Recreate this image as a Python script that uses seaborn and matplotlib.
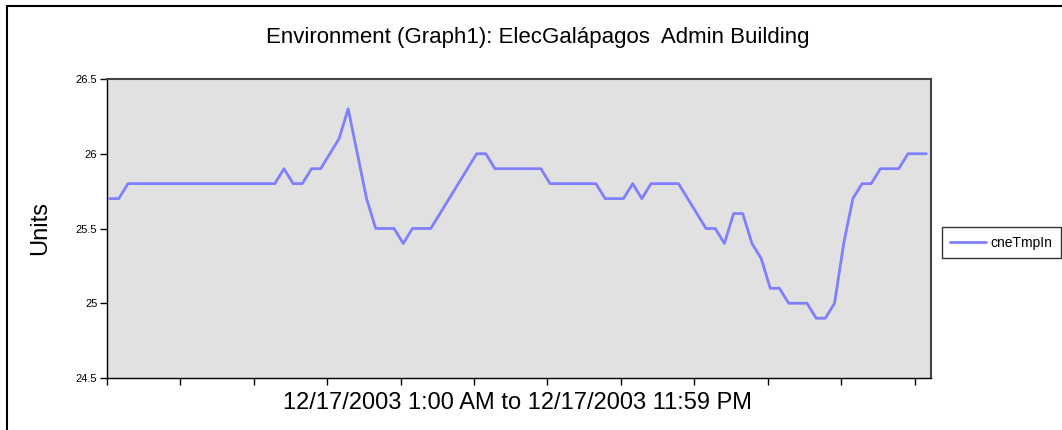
import numpy as np
import pandas as pd
import matplotlib
matplotlib.use('Agg')
import matplotlib.pyplot as plt
import seaborn as sns
from matplotlib.lines import Line2D

# ========================================
# data (15-minute readings, 12/17/2003 from 1:00 AM)
# ========================================
TITLE = "Environment (Graph1): ElecGalápagos  Admin Building"
XLABEL = "12/17/2003 1:00 AM to 12/17/2003 11:59 PM"
YLABEL = "Units"
SERIES = "cneTmpIn"

temps = [25.7, 25.7,
         25.8, 25.8, 25.8, 25.8, 25.8, 25.8, 25.8, 25.8, 25.8, 25.8,
         25.8, 25.8, 25.8, 25.8, 25.8, 25.8, 25.8,
         25.9, 25.8, 25.8, 25.9, 25.9, 26.0, 26.1, 26.3, 26.0, 25.7,
         25.5, 25.5, 25.5, 25.4, 25.5, 25.5, 25.5,
         25.6, 25.7, 25.8, 25.9, 26.0, 26.0,
         25.9, 25.9, 25.9, 25.9, 25.9, 25.9,
         25.8, 25.8, 25.8, 25.8, 25.8, 25.8,
         25.7, 25.7, 25.7, 25.8, 25.7, 25.8, 25.8, 25.8, 25.8,
         25.7, 25.6, 25.5, 25.5, 25.4, 25.6, 25.6, 25.4, 25.3,
         25.1, 25.1, 25.0, 25.0, 25.0, 24.9, 24.9, 25.0,
         25.4, 25.7, 25.8, 25.8, 25.9, 25.9, 25.9, 26.0, 26.0, 26.0]

times = pd.date_range("2003-12-17 01:00", periods=len(temps), freq="15min")
hours = times.hour + times.minute / 60.0

y_ticks = [24.5, 25, 25.5, 26, 26.5]
y_tick_labels = ["24.5", "25", "25.5", "26", "26.5"]

df = pd.DataFrame({"hour": hours, SERIES: temps})

# ========================================
# plot
# ========================================
sns.set_style("white")
plt.rcParams['font.family'] = ['Liberation Sans', 'DejaVu Sans']
plt.rcParams['text.color'] = 'black'
plt.rcParams['xtick.color'] = 'black'
plt.rcParams['ytick.color'] = 'black'

fig = plt.figure(figsize=(10.62, 4.30), dpi=100)
ax = fig.add_axes([0.1008, 0.1209, 0.7759, 0.6954])
ax.set_facecolor('#e1e1e1')

sns.lineplot(data=df, x="hour", y=SERIES, color='#7f7fff', linewidth=2.0,
             label=SERIES, ax=ax, legend=False)

x0, x1 = 0.93, 23.38
ax.set_xlim(x0, x1)
ax.set_ylim(24.5, 26.5)
ax.set_xticks([x0 + 2 * i for i in range(12)])
ax.set_xticklabels([])
ax.set_yticks(y_ticks)
ax.set_yticklabels(y_tick_labels, fontsize=8, color='black')
ax.tick_params(axis='both', direction='out', length=5, width=1, color='black',
               bottom=True, left=True, pad=2)
ax.set_xlabel("")
ax.set_ylabel("")

for side in ['left', 'bottom']:
    ax.spines[side].set_color('black')
    ax.spines[side].set_linewidth(1.0)
for side in ['top', 'right']:
    ax.spines[side].set_color('#444444')
    ax.spines[side].set_linewidth(1.5)

fig.text(0.5066, 0.912, TITLE, ha='center', va='center', fontsize=16, color='black')
fig.text(0.4877, 0.063, XLABEL, ha='center', va='center', fontsize=17, color='black')
fig.text(0.038, 0.47, YLABEL, ha='center', va='center', rotation=90, fontsize=17,
         color='black')

handles = [Line2D([0], [0], color='#7f7fff', linewidth=2.0)]
leg = fig.legend(handles, [SERIES], loc='center left',
                 bbox_to_anchor=(0.887, 0.436), fontsize=10,
                 frameon=True, fancybox=False, handlelength=2.6,
                 handletextpad=0.3, borderpad=0.6, borderaxespad=0)
leg.get_frame().set_edgecolor('black')
leg.get_frame().set_linewidth(1.0)
for t in leg.get_texts():
    t.set_color('black')

# outer border (top and left)
fig.add_artist(Line2D([0.0066, 1.0], [0.986, 0.986], transform=fig.transFigure,
                      color='black', linewidth=1.5))
fig.add_artist(Line2D([0.0066, 0.0066], [0.0, 0.986], transform=fig.transFigure,
                      color='black', linewidth=1.5))

plt.savefig("out.png", dpi=100)
plt.close()
